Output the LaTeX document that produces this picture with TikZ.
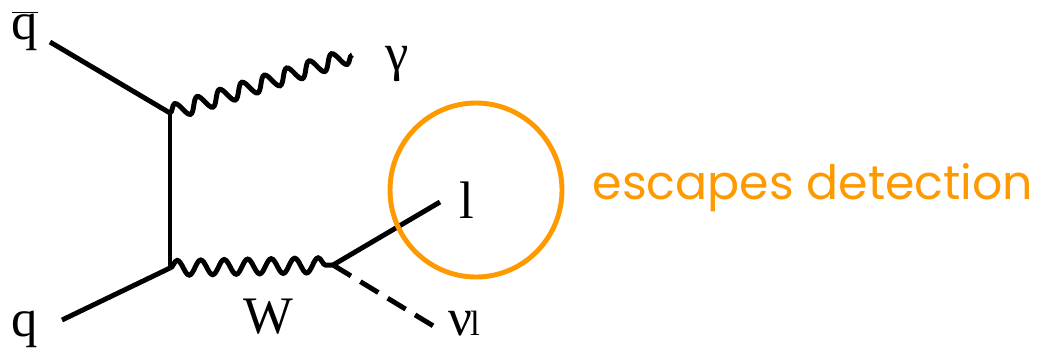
\documentclass[tikz,border=0pt]{standalone}
\usepackage{fontspec}
\setmainfont{Liberation Serif}
\newfontfamily\notefont{Poppins}
\usepackage{xcolor}
\usetikzlibrary{decorations.pathmorphing,shapes.geometric}
\definecolor{hilite}{HTML}{FF9900}

\begin{document}
\begin{tikzpicture}[
    fermion/.style = {line width=2.8pt},
    photon/.style  = {line width=2.8pt, decorate,
                      decoration={snake, segment length=0.47cm, amplitude=0.15cm}},
    scalar/.style  = {line width=2.8pt, dash pattern=on 0.42cm off 0.22cm},
    lbl/.style     = {font=\fontsize{30}{30}\selectfont},
    note/.style    = {text=hilite, font=\notefont\fontsize{27}{27}\selectfont}
]
    \useasboundingbox (0,0) rectangle (20.88,7);

    %-- vertices and free ends ---------------------------------------------
    \coordinate (vtop) at (3.40,4.74);
    \coordinate (vbot) at (3.40,1.64);
    \coordinate (vw)   at (6.66,1.70);
    \coordinate (qbarend) at (1.00,6.16);
    \coordinate (qend)    at (1.24,0.60);
    \coordinate (gamend)  at (7.04,5.90);
    \coordinate (lepend)  at (8.80,2.96);
    \coordinate (nuend)   at (8.80,0.40);

    %-- labels --------------------------------------------------------------
    \node[lbl] (qbar) at (0.50,6.38) {$\overline{\mathrm{q}}$};
    \node[lbl] (q)    at (0.50,0.42) {q};
    \node[lbl] (gam)  at (7.94,5.72) {γ};
    \node[lbl] (wlbl) at (5.36,0.66) {W};
    \node[lbl] (lep)  at (9.34,3.00) {l};
    \node[lbl] (nu)   at (9.28,0.52) {ν\kern-1pt{\fontsize{20}{20}\selectfont l}};

    %-- lines ---------------------------------------------------------------
    \draw[fermion] (qbarend) -- (vtop);
    \draw[fermion] (qend) -- (vbot);
    \draw[fermion] (vtop) -- (vbot);
    \draw[photon]  (vtop) -- (gamend);
    \draw[photon]  (vbot) -- (vw);
    \draw[fermion] (vw) -- (lepend);
    \draw[scalar]  (vw) -- (nuend);

    %-- escaping lepton -----------------------------------------------------
    \node[draw=hilite, line width=2.8pt, ellipse, minimum width=3.44cm,
          minimum height=3.48cm] (ring) at (9.52,3.20) {};
    \node[note] (esc) at (16.26,3.24) {escapes detection};

\end{tikzpicture}
\end{document}
